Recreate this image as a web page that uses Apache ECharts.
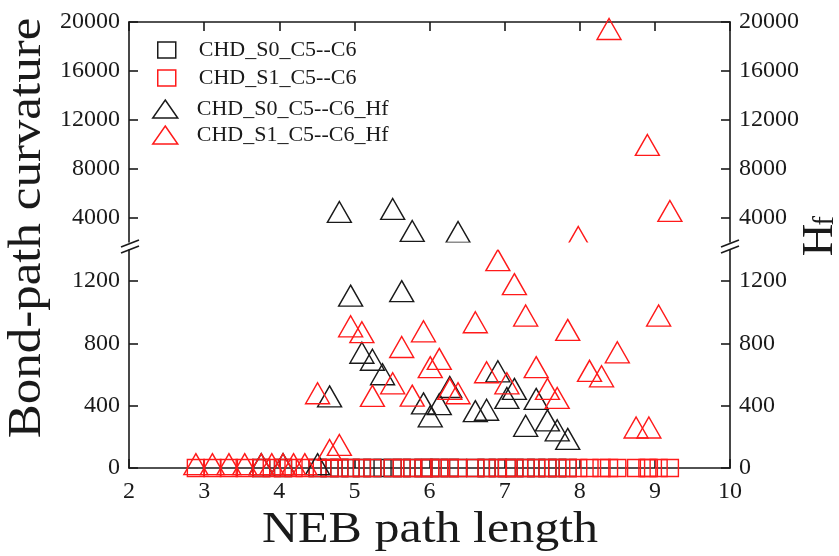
<!DOCTYPE html>
<html>
<head>
<meta charset="utf-8">
<script src="https://cdn.jsdelivr.net/npm/echarts@6/dist/echarts.min.js"></script>
<style>
  html, body { margin: 0; padding: 0; background: #fff; }
  #chart { width: 839px; height: 556px; }
</style>
</head>
<body>
<div id="chart"></div>
<script>
// S0 state: NEB path length, bond-path curvature and Hf at each image
const s0PathLength = [3.76, 4.05, 4.51, 4.67, 4.80, 4.95, 5.10, 5.24, 5.375, 5.51, 5.63, 5.77, 5.92, 6.01, 6.13, 6.27, 6.38, 6.61, 6.76, 6.91, 7.03, 7.13, 7.28, 7.42, 7.57, 7.70, 7.84];
const s0Curvature  = [0, 0, 0, 0, 0, 0, 0, 0, 0, 0, 0, 0, 0, 0, 0, 0, 0, 0, 0, 0, 0, 0, 0, 0, 0, 0, 0];
const s0Hf         = [25, 25, 25, 460, 4458, 1107, 740, 695, 602, 4703, 1136, 2904, 415, 332, 410, 520, 2822, 365, 374, 621, 450, 508, 271, 444, 306, 242, 187];

// S1 state: NEB path length, bond-path curvature and Hf at each image
const s1PathLength = [2.89, 3.11, 3.33, 3.54, 3.76, 3.90, 4.05, 4.19, 4.34, 4.51, 4.67, 4.80, 4.95, 5.10, 5.24, 5.51, 5.63, 5.77, 5.92, 6.01, 6.13, 6.27, 6.38, 6.61, 6.76, 6.91, 7.03, 7.13, 7.28, 7.42, 7.57, 7.70, 7.84, 7.98, 8.13, 8.29, 8.39, 8.50, 8.75, 8.90, 8.92, 9.05, 9.20];
const s1Curvature  = [0, 0, 0, 0, 0, 0, 0, 0, 0, 0, 0, 0, 0, 0, 0, 0, 0, 0, 0, 0, 0, 0, 0, 0, 0, 0, 0, 0, 0, 0, 0, 0, 0, 0, 0, 0, 0, 0, 0, 0, 0, 0, 0];
const s1Hf         = [25, 25, 25, 25, 25, 25, 25, 25, 25, 480, 116, 148, 910, 872, 463, 544, 777, 465, 878, 648, 701, 508, 480, 936, 615, 1335, 544, 1181, 979, 648, 508, 450, 887, 2413, 624, 589, 19427, 743, 260, 9939, 260, 979, 4540];

// Axis ticks
const xTicks = [2, 3, 4, 5, 6, 7, 8, 9, 10];
const lowerTicks = [0, 400, 800, 1200];
const upperTicks = [4000, 8000, 12000, 16000, 20000];

const seriesNames = ['CHD_S0_C5--C6', 'CHD_S1_C5--C6', 'CHD_S0_C5--C6_Hf', 'CHD_S1_C5--C6_Hf'];

const FONT = '"Liberation Serif", "Times New Roman", serif';
const INK = '#1a1a1a';
const RED = '#ff1a1a';
const lineStyle = { color: INK, width: 1.6 };
const plain = v => String(v);

const pairs = (xs, ys) => xs.map((x, i) => [x, ys[i]]);
const seriesDefs = [
  { name: seriesNames[0], data: pairs(s0PathLength, s0Curvature), symbol: 'rect', size: [17, 17], color: INK },
  { name: seriesNames[1], data: pairs(s1PathLength, s1Curvature), symbol: 'rect', size: [17, 17], color: RED },
  { name: seriesNames[2], data: pairs(s0PathLength, s0Hf), symbol: 'triangle', size: [24, 21], color: INK },
  { name: seriesNames[3], data: pairs(s1PathLength, s1Hf), symbol: 'triangle', size: [24, 21], color: RED }
];

// every series is drawn in both panels of the broken axis; each panel clips to its own range
const series = [];
[0, 1].forEach(g => {
  seriesDefs.forEach(d => {
    series.push({
      type: 'scatter',
      name: d.name,
      xAxisIndex: g,
      yAxisIndex: g === 0 ? 0 : 2,
      data: d.data,
      symbol: d.symbol,
      symbolSize: d.size,
      clip: true,
      silent: true,
      z: 2,
      itemStyle: { color: 'transparent', borderColor: d.color, borderWidth: 1.4, opacity: 1 }
    });
  });
});

const xAxisBase = {
  type: 'value', min: 2, max: 10, interval: 1,
  axisLine: { show: true, onZero: false, lineStyle },
  axisTick: { show: true, inside: true, length: 9, lineStyle },
  splitLine: { show: false }
};
const yAxisBase = (pos, min, max, ticks) => ({
  type: 'value', position: pos, min, max,
  axisLine: { show: true, onZero: false, lineStyle },
  axisTick: { show: true, inside: true, length: 9, lineStyle, customValues: ticks },
  axisLabel: { show: true, customValues: ticks, formatter: plain, fontSize: 24, fontFamily: FONT, color: INK, margin: 9 },
  splitLine: { show: false }
});

const legendRow = (name, symbol, color, left, top, w, h, pad) => ({
  left, top, padding: 0, orient: 'vertical', selectedMode: false,
  itemWidth: w, itemHeight: h,
  textStyle: { fontSize: 22, fontFamily: FONT, color: INK, padding: [0, 0, 0, pad], lineHeight: h },
  data: [{ name, icon: symbol === 'rect' ? 'rect' : 'triangle',
           itemStyle: { color: 'transparent', borderColor: color, borderWidth: 1.5 } }]
});

const option = {
  animation: false,
  backgroundColor: '#fff',
  grid: [
    { left: 129, top: 22, width: 601, height: 220 },
    { left: 129, top: 250, width: 601, height: 218 }
  ],
  xAxis: [
    Object.assign({}, xAxisBase, { gridIndex: 0, position: 'top', axisLabel: { show: false } }),
    Object.assign({}, xAxisBase, {
      gridIndex: 1, position: 'bottom',
      axisLabel: { show: true, fontSize: 24, fontFamily: FONT, color: INK, margin: 12,
                   customValues: xTicks, formatter: plain }
    })
  ],
  yAxis: [
    Object.assign(yAxisBase('left', 2000, 20000, upperTicks), { gridIndex: 0 }),
    Object.assign(yAxisBase('right', 2000, 20000, upperTicks), { gridIndex: 0 }),
    Object.assign(yAxisBase('left', 0, 1400, lowerTicks), { gridIndex: 1 }),
    Object.assign(yAxisBase('right', 0, 1400, lowerTicks), { gridIndex: 1 })
  ],
  legend: [
    legendRow(seriesNames[0], 'rect', INK, 157, 39, 18, 16, 18),
    legendRow(seriesNames[1], 'rect', RED, 157, 67, 18, 16, 18),
    legendRow(seriesNames[2], 'triangle', INK, 152, 98, 25, 18, 14),
    legendRow(seriesNames[3], 'triangle', RED, 152, 124, 25, 18, 14)
  ],
  graphic: [
    // blank band between the two panels of the broken value axis
    { type: 'rect', z: 50, silent: true, shape: { x: 131, y: 242.6, width: 597, height: 6.8 }, style: { fill: '#fff' } },
    // axis titles
    { type: 'text', x: 28, y: 228, rotation: Math.PI / 2, scaleY: 0.9, z: 60,
      style: { text: 'Bond-path curvature', font: '51px ' + FONT, fill: INK, align: 'center', verticalAlign: 'middle' } },
    { type: 'text', x: 430, y: 530, scaleY: 0.9, z: 60,
      style: { text: 'NEB path length', font: '50px ' + FONT, fill: INK, align: 'center', verticalAlign: 'middle' } },
    { type: 'text', x: 820, y: 240, rotation: Math.PI / 2, z: 60,
      style: { text: 'H', font: '45px ' + FONT, fill: INK, align: 'center', verticalAlign: 'middle' } },
    { type: 'text', x: 825, y: 221, rotation: Math.PI / 2, z: 60,
      style: { text: 'f', font: '29px ' + FONT, fill: INK, align: 'center', verticalAlign: 'middle' } },
    // axis-break marks on both vertical axes
    { type: 'line', z: 60, shape: { x1: 121, y1: 247, x2: 139, y2: 240 }, style: { stroke: INK, lineWidth: 1.6 } },
    { type: 'line', z: 60, shape: { x1: 121, y1: 253, x2: 139, y2: 246 }, style: { stroke: INK, lineWidth: 1.6 } },
    { type: 'line', z: 60, shape: { x1: 721, y1: 247, x2: 739, y2: 240 }, style: { stroke: INK, lineWidth: 1.6 } },
    { type: 'line', z: 60, shape: { x1: 721, y1: 253, x2: 739, y2: 246 }, style: { stroke: INK, lineWidth: 1.6 } }
  ],
  series
};

const chart = echarts.init(document.getElementById('chart'), null, { renderer: 'canvas' });
chart.setOption(option);
</script>
</body>
</html>
